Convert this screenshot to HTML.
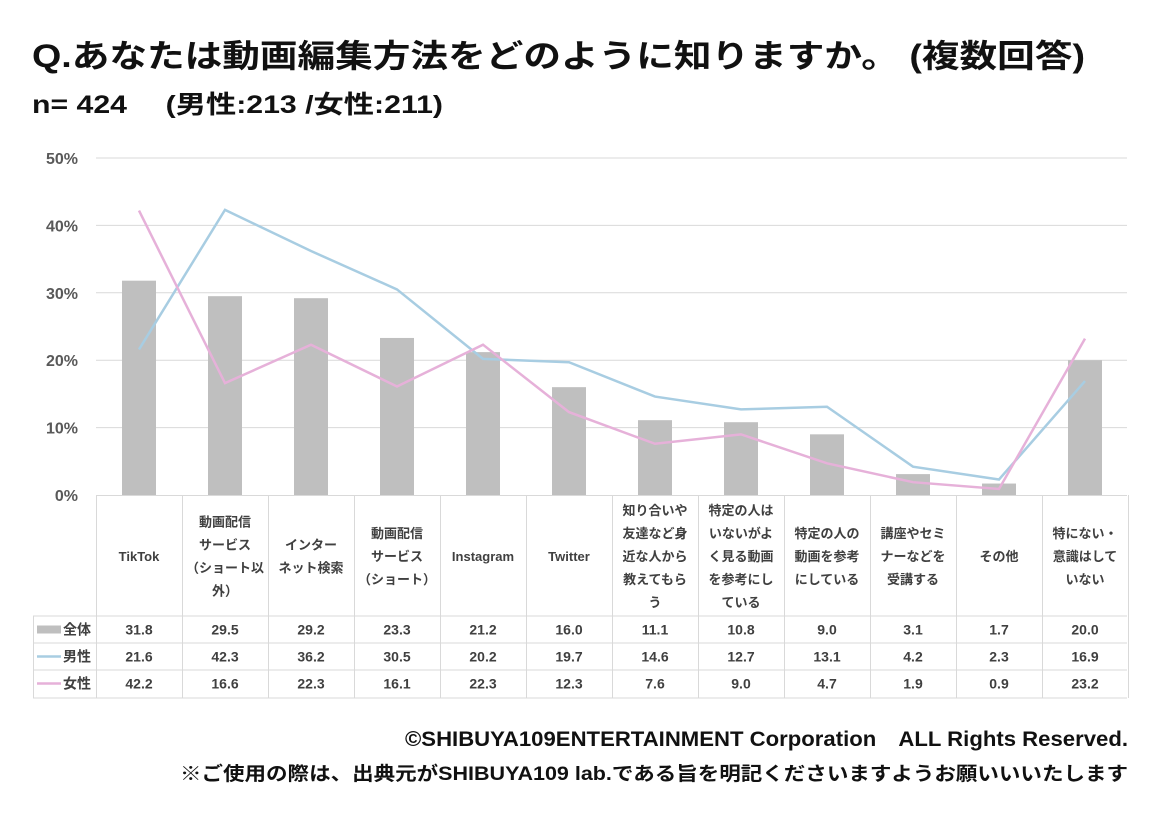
<!DOCTYPE html>
<html><head><meta charset="utf-8">
<style>
body{margin:0;background:#fff;width:1160px;height:830px;overflow:hidden;font-family:"Liberation Sans","Noto Sans CJK JP",sans-serif;}
svg text{font-family:"Liberation Sans","Noto Sans CJK JP",sans-serif;}
</style></head><body>
<svg id="s" width="1160" height="830" xmlns="http://www.w3.org/2000/svg">
<text x="32" y="67" font-size="32" font-weight="bold" fill="#111" textLength="1053" lengthAdjust="spacingAndGlyphs">Q.あなたは動画編集方法をどのように知りますか。 (複数回答)</text>
<text x="32" y="113" font-size="25" font-weight="bold" fill="#111" textLength="411" lengthAdjust="spacingAndGlyphs">n= 424　 (男性:213 /女性:211)</text>
<text x="405" y="746" font-size="21" font-weight="bold" fill="#111" textLength="723" lengthAdjust="spacingAndGlyphs">©SHIBUYA109ENTERTAINMENT Corporation　ALL Rights Reserved.</text>
<text x="180" y="780" font-size="19" font-weight="bold" fill="#111" textLength="948" lengthAdjust="spacingAndGlyphs">※ご使用の際は、出典元がSHIBUYA109 lab.である旨を明記くださいますようお願いいいたします</text>
</svg>
<script>
const s=document.getElementById('s');let h='';
const y0=495,k=6.74,x0=96,w=86;
for(let i=0;i<=5;i++){const y=y0-i*10*k;
 if(i>0)h+=`<line x1="96" x2="1127" y1="${y}" y2="${y}" stroke="#d9d9d9" stroke-width="1"/>`;
 h+=`<text x="78" y="${y+6}" font-size="16" font-weight="bold" fill="#595959" text-anchor="end">${i*10}%</text>`;}
const a=[31.8,29.5,29.2,23.3,21.2,16.0,11.1,10.8,9.0,3.1,1.7,20.0];
const m=[21.6,42.3,36.2,30.5,20.2,19.7,14.6,12.7,13.1,4.2,2.3,16.9];
const f=[42.2,16.6,22.3,16.1,22.3,12.3,7.6,9.0,4.7,1.9,0.9,23.2];
const labels=[["TikTok"],["動画配信","サービス","（ショート以","外）"],["インター","ネット検索"],["動画配信","サービス","（ショート）"],["Instagram"],["Twitter"],["知り合いや","友達など身","近な人から","教えてもら","う"],["特定の人は","いないがよ","く見る動画","を参考にし","ている"],["特定の人の","動画を参考","にしている"],["講座やセミ","ナーなどを","受講する"],["その他"],["特にない・","意識はして","いない"]];
a.forEach((v,i)=>{const cx=x0+w*i+43;h+=`<rect x="${cx-17}" y="${y0-v*k}" width="34" height="${v*k}" fill="#bfbfbf"/>`;});
const pl=(d,c)=>`<polyline fill="none" stroke="${c}" stroke-width="2.5" points="${d.map((v,i)=>(x0+w*i+43)+','+(y0-v*k)).join(' ')}"/>`;
h+=pl(m,'#a8cde2')+pl(f,'#e6b1d9');
const L='#d9d9d9';
h+=`<line x1="96" x2="1127" y1="495.5" y2="495.5" stroke="${L}"/>`;
[616,643,670,698].forEach(y=>{h+=`<line x1="33" x2="1127" y1="${y}" y2="${y}" stroke="${L}"/>`;});
h+=`<line x1="33.5" x2="33.5" y1="616" y2="698" stroke="${L}"/>`;
for(let i=0;i<=12;i++){const x=x0+w*i+0.5;h+=`<line x1="${x}" x2="${x}" y1="495" y2="698" stroke="${L}"/>`;}
labels.forEach((ls,i)=>{const cx=x0+w*i+43;const n=ls.length;const st=556-(n-1)*11.5;
 ls.forEach((t,j)=>{h+=`<text x="${cx}" y="${st+j*23+5}" font-size="13" font-weight="bold" fill="#404040" text-anchor="middle">${t}</text>`;});});
const rows=[[a,'全体','#bfbfbf',1],[m,'男性','#a8cde2',0],[f,'女性','#e6b1d9',0]];
rows.forEach((r,ri)=>{const yc=629.5+ri*27;
 if(r[3])h+=`<rect x="37" y="${yc-4}" width="24" height="8" fill="${r[2]}"/>`;else h+=`<line x1="37" x2="61" y1="${yc}" y2="${yc}" stroke="${r[2]}" stroke-width="2.5"/>`;
 h+=`<text x="63" y="${yc+5}" font-size="14" font-weight="bold" fill="#404040">${r[1]}</text>`;
 r[0].forEach((v,i)=>{h+=`<text x="${x0+w*i+43}" y="${yc+5}" font-size="14" font-weight="bold" fill="#404040" text-anchor="middle">${v.toFixed(1)}</text>`;});});
s.insertAdjacentHTML('beforeend',h);
</script>
</body></html>
